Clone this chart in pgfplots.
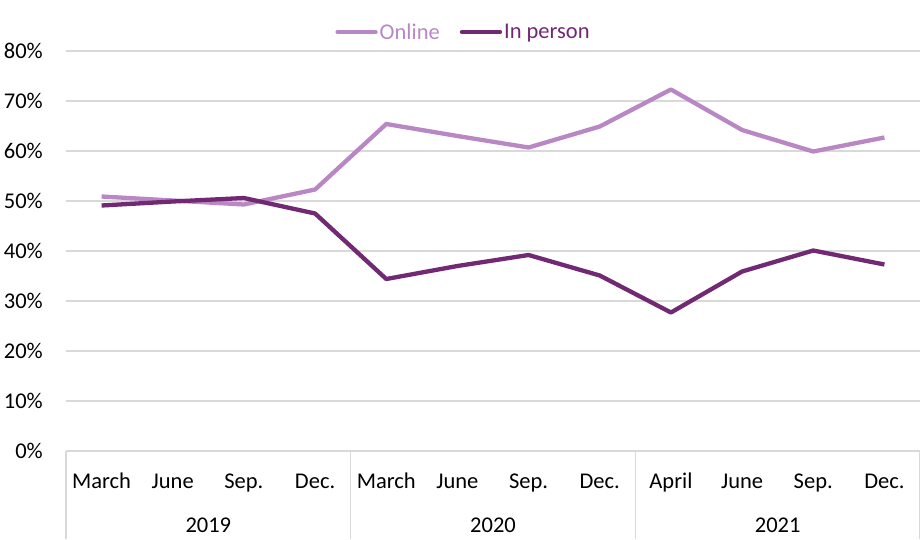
\documentclass[border=0pt]{standalone}
\usepackage{fontspec}
\setmainfont{Carlito}
\usepackage{pgfplots}
\pgfplotsset{compat=1.18}

\definecolor{online}{RGB}{185,135,195}
\definecolor{inperson}{RGB}{113,41,115}
\definecolor{gridgray}{RGB}{217,217,217}

\begin{document}
\begin{tikzpicture}[font=\fontsize{22.5}{27}\selectfont]
  \path[use as bounding box] (-66pt,-88pt) rectangle (854pt,451pt);
  \begin{axis}[
      at={(0pt,0pt)}, anchor=south west,
      scale only axis,
      width=854pt, height=400pt,
      xmin=-0.5, xmax=11.5,
      ymin=0, ymax=80,
      clip=false,
      xtick={0,...,11},
      xticklabels={March,June,Sep.,Dec.,March,June,Sep.,Dec.,April,June,Sep.,Dec.},
      ytick={0,10,...,80},
      yticklabel={\pgfmathprintnumber{\tick}\%},
      /pgf/number format/assume math mode=true,
      axis line style={draw=none},
      major tick length=0pt,
      ymajorgrids=true,
      grid style={gridgray, line width=1.5pt},
      yticklabel style={anchor=east, inner sep=0pt, xshift=-23pt},
      xticklabel style={anchor=base, inner sep=0pt, yshift=-37pt},
      legend columns=-1,
      legend style={
        draw=none, fill=none,
        at={(0.4655,1.0475)}, anchor=center,
        nodes={inner sep=2pt},
        /tikz/every even column/.append style={column sep=18pt}
      },
      legend image code/.code={\draw[#1, line cap=round] (2pt,0pt) -- (40pt,0pt);},
    ]

    \addplot[online, line width=4.3pt, line join=round] coordinates {
      (0, 50.9) (1, 50.1) (2, 49.3) (3, 52.3)
      (4, 65.4) (5, 63.0) (6, 60.7) (7, 64.9)
      (8, 72.3) (9, 64.2) (10, 59.9) (11, 62.7)
    };
    \addlegendentry{\textcolor{online}{Online}}

    \addplot[inperson, line width=4.3pt, line join=round] coordinates {
      (0, 49.1) (1, 49.9) (2, 50.6) (3, 47.5)
      (4, 34.4) (5, 37.0) (6, 39.2) (7, 35.1)
      (8, 27.7) (9, 35.9) (10, 40.1) (11, 37.3)
    };
    \addlegendentry{\textcolor{inperson}{In person}}

    % year groups under the month labels
    \draw[gridgray, line width=1.5pt] (axis cs:-0.5,0) -- ++(0pt,-88pt);
    \draw[gridgray, line width=1.5pt] (axis cs:3.5,0) -- ++(0pt,-88pt);
    \draw[gridgray, line width=1.5pt] (axis cs:7.5,0) -- ++(0pt,-88pt);
    \draw[gridgray, line width=1.5pt] (axis cs:11.5,0) -- ++(0pt,-88pt);
    \node[anchor=base, inner sep=0pt] at ([yshift=-81pt]axis cs:1.5,0) {2019};
    \node[anchor=base, inner sep=0pt] at ([yshift=-81pt]axis cs:5.5,0) {2020};
    \node[anchor=base, inner sep=0pt] at ([yshift=-81pt]axis cs:9.5,0) {2021};
  \end{axis}
\end{tikzpicture}
\end{document}
